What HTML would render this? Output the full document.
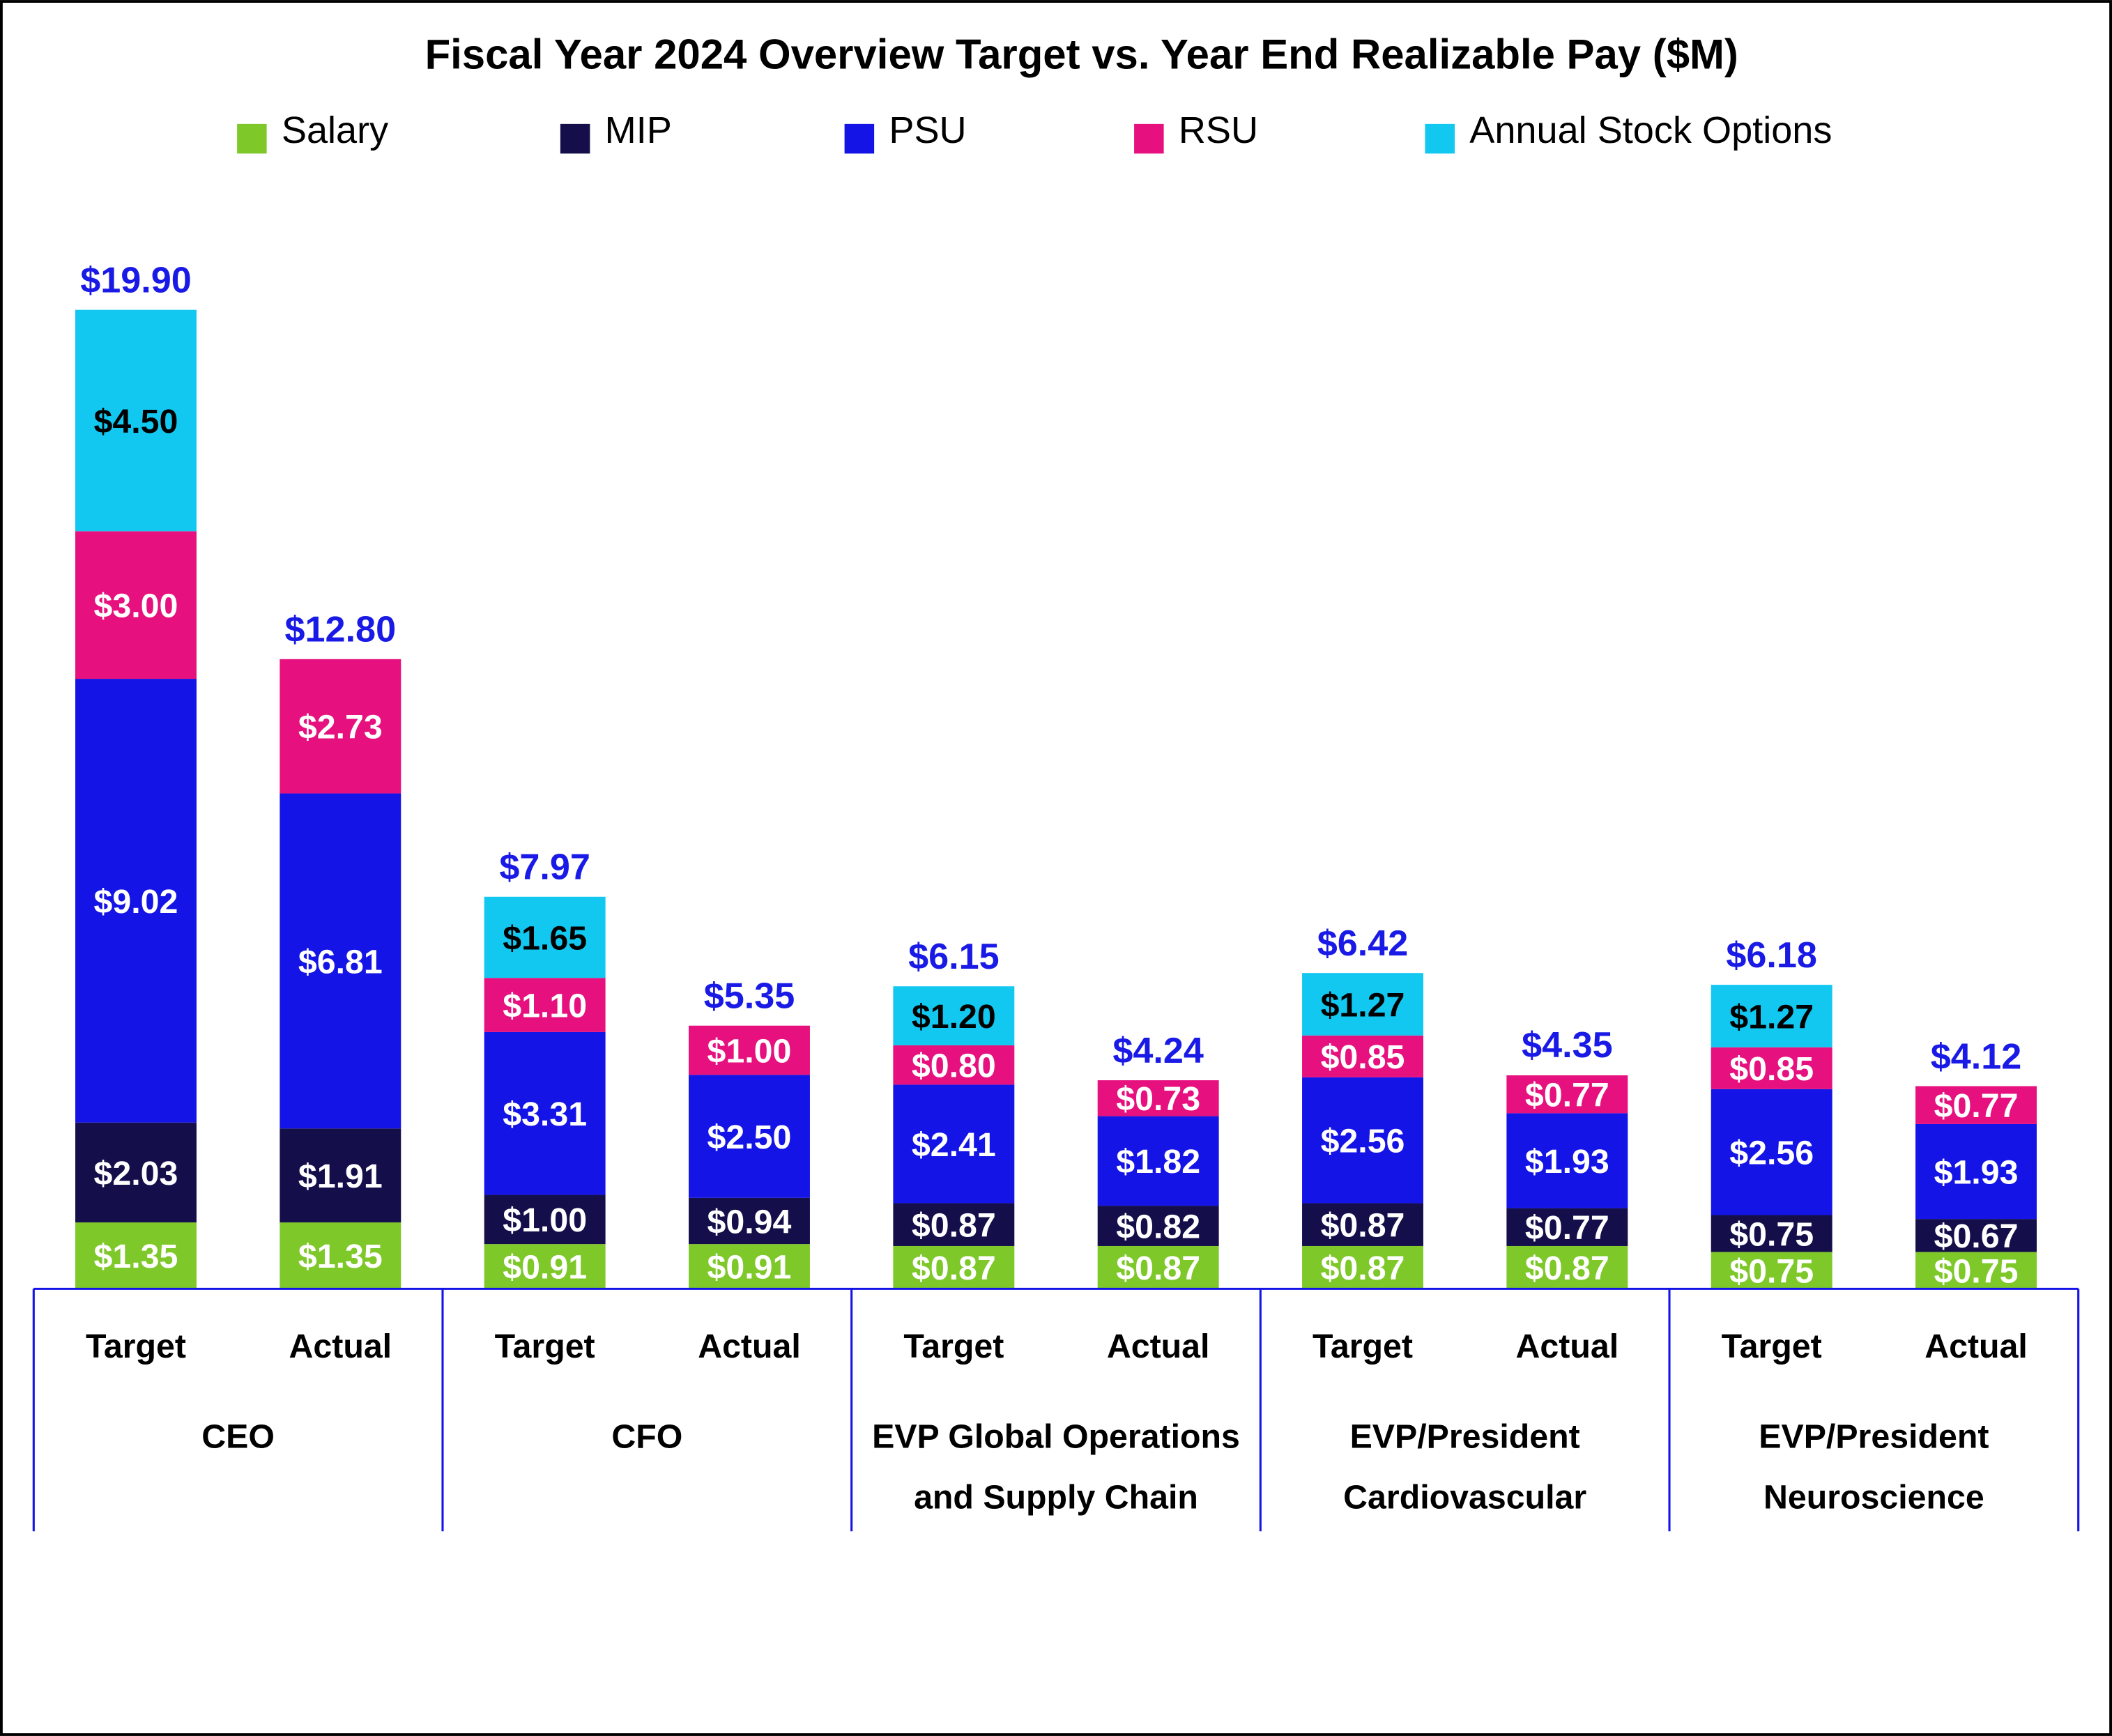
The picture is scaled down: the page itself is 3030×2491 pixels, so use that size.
<!DOCTYPE html>
<html><head><meta charset="utf-8"><style>
html,body{margin:0;padding:0;background:#fff}
svg{display:block}
text{font-family:"Liberation Sans",sans-serif}
</style></head><body>
<svg id="chart" width="3030" height="2491" viewBox="0 0 1568 1289" xmlns="http://www.w3.org/2000/svg">
<rect x="1" y="1" width="1566" height="1287" fill="#fff" stroke="#000" stroke-width="2"/>
<text x="803" y="51" text-anchor="middle" font-size="31" font-weight="bold" fill="#000">Fiscal Year 2024 Overview Target vs. Year End Realizable Pay ($M)</text>
<g id="legend"></g>
<g id="plot"></g>
</svg>
<script>
const groups = ["CEO","CFO","EVP Global Operations|and Supply Chain","EVP/President|Cardiovascular","EVP/President|Neuroscience"];
const barTypes = ["Target","Actual"];
const seriesNames = ["Salary","MIP","PSU","RSU","Annual Stock Options"];
const salary = [1.35,1.35,0.91,0.91,0.87,0.87,0.87,0.87,0.75,0.75];
const mip    = [2.03,1.91,1.00,0.94,0.87,0.82,0.87,0.77,0.75,0.67];
const psu    = [9.02,6.81,3.31,2.50,2.41,1.82,2.56,1.93,2.56,1.93];
const rsu    = [3.00,2.73,1.10,1.00,0.80,0.73,0.85,0.77,0.85,0.77];
const aso    = [4.50,0,1.65,0,1.20,0,1.27,0,1.27,0];
const totals = [19.90,12.80,7.97,5.35,6.15,4.24,6.42,4.35,6.18,4.12];

const colors = ["#7ec82a","#140f4a","#1414e6","#e6107e","#12c8f0"];
const labelColors = ["#fff","#fff","#fff","#fff","#000"];
const NS = "http://www.w3.org/2000/svg";
const baseY = 957, pxPerUnit = 36.53, left = 25, right = 1543, barW = 90;
const groupW = (right-left)/groups.length;
function y(v){ return baseY - v*pxPerUnit; }
function xCenter(i){ const g=Math.floor(i/2); return left + g*groupW + (i%2===0?0.25:0.75)*groupW; }
function mk(tag, attrs, parent){ const e=document.createElementNS(NS,tag); for(const k in attrs) e.setAttribute(k,attrs[k]); parent.appendChild(e); return e; }

const legend = document.getElementById('legend');
const legX = [176,416,627,842,1058];
seriesNames.forEach((n,i)=>{
  const r = mk('rect',{x:legX[i],y:92,width:22,height:22,fill:colors[i]},legend);
  
  
  const t = mk('text',{x:legX[i]+33,y:106,'font-size':28,fill:'#000'},legend);
  t.textContent = n;
  
  
});

const plot = document.getElementById('plot');
const series = [salary,mip,psu,rsu,aso];
for(let i=0;i<totals.length;i++){
  const cx = xCenter(i);
  let cum = 0;
  series.forEach((s,k)=>{
    const v = s[i];
    if(!v) return;
    const y0 = y(cum), y1 = y(cum+v);
    const r = mk('rect',{x:cx-barW/2,y:y1,width:barW,height:y0-y1,fill:colors[k]},plot);
    
    
    const t = mk('text',{x:cx,y:(y0+y1)/2+9,'text-anchor':'middle','font-size':25,'font-weight':'bold',fill:labelColors[k]},plot);
    t.textContent = '$'+v.toFixed(2);
    
    
    cum += v;
  });
  const tt = mk('text',{x:cx,y:y(totals[i])-13,'text-anchor':'middle','font-size':27,'font-weight':'bold',fill:'#1a1ae6'},plot);
  tt.textContent = '$'+totals[i].toFixed(2);
  
  
  const xl = mk('text',{x:cx,y:1008,'text-anchor':'middle','font-size':25,'font-weight':'bold',fill:'#000'},plot);
  xl.textContent = barTypes[i%2];
  
  
}
const axis = mk('line',{x1:left,y1:baseY,x2:right,y2:baseY,stroke:'#1414e6','stroke-width':1.6},plot);


for(let g=0;g<=groups.length;g++){
  const sx = left+g*groupW;
  const l = mk('line',{x1:sx,y1:baseY,x2:sx,y2:1137,stroke:'#1414e6','stroke-width':1.6},plot);
  
  
}
groups.forEach((g,gi)=>{
  const lines = g.split('|');
  const cx = left+(gi+0.5)*groupW;
  lines.forEach((ln,li)=>{
    const t = mk('text',{x:cx,y:1075+li*45,'text-anchor':'middle','font-size':25,'font-weight':'bold',fill:'#000'},plot);
    t.textContent = ln;
    
    
  });
});
</script>
</body></html>
